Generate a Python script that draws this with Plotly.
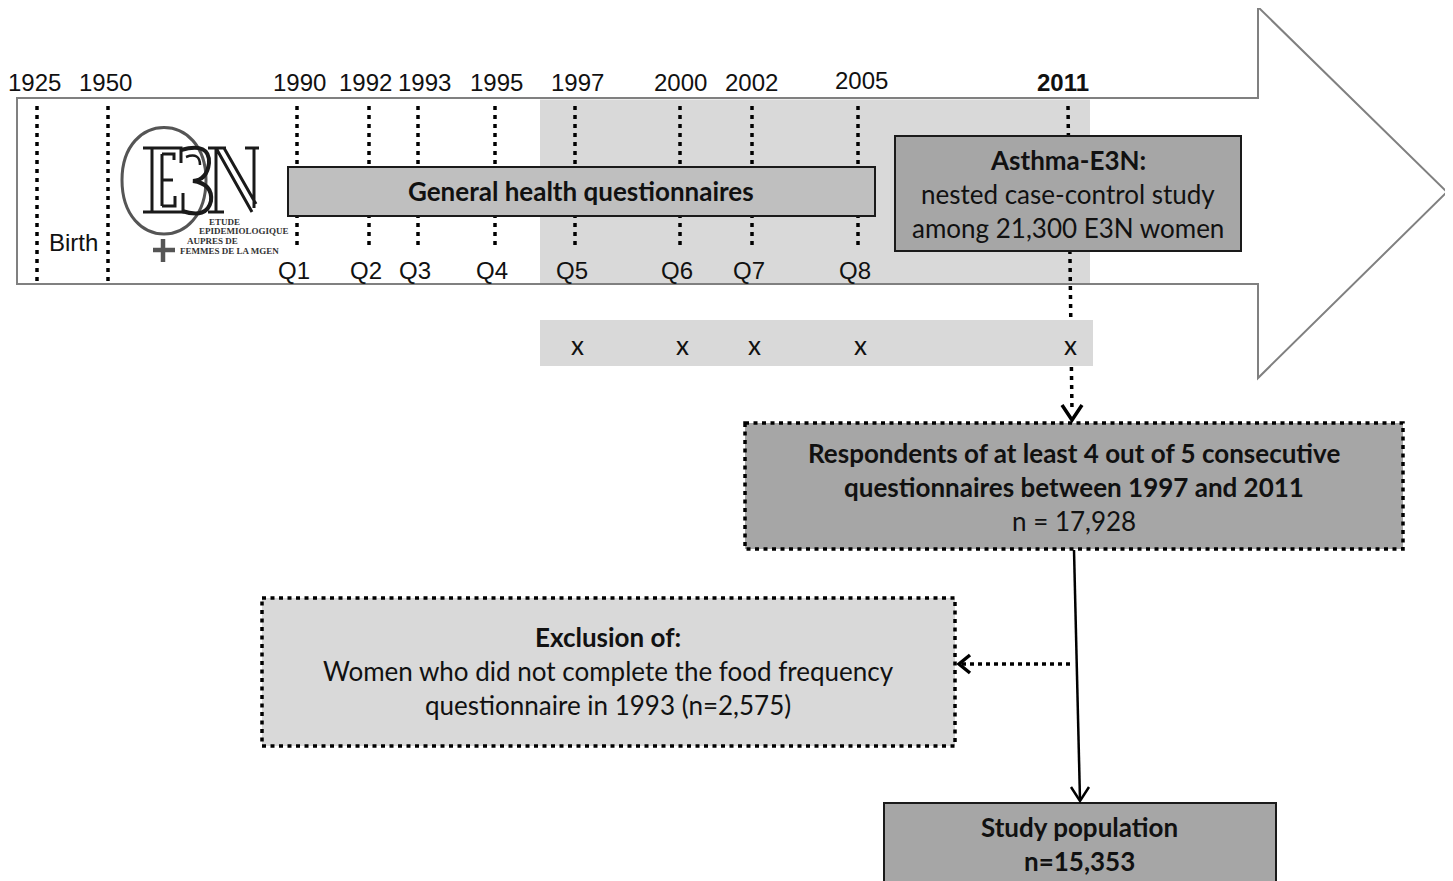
import plotly.graph_objects as go

W, H = 1453, 881
OFF = 8  # default page body margin; the figure is placed at (8, 8) in the window

# ---------------- data ----------------
years = ["1925", "1950", "1990", "1992", "1993", "1995", "1997", "2000", "2002", "2005", "2011"]
questionnaires = ["Q1", "Q2", "Q3", "Q4", "Q5", "Q6", "Q7", "Q8"]
questionnaire_years = ["1990", "1992", "1993", "1995", "1997", "2000", "2002", "2005"]
followup_years = ["1997", "2000", "2002", "2005", "2011"]
n_cohort = 21300
n_respondents = 17928
n_excluded = 2575
n_study = 15353
min_answered, window = 4, 5
ffq_year = "1993"
logo_lines = ["ETUDE", "EPIDEMIOLOGIQUE", "AUPRES DE", "FEMMES DE LA MGEN"]

# ---------------- layout (pixel positions in the window) ----------------
year_x = {"1925": 37, "1950": 108, "1990": 297, "1992": 369, "1993": 418, "1995": 495,
          "1997": 575, "2000": 680, "2002": 752, "2005": 858, "2011": 1068}
year_label_dx = {"1925": -3, "1950": -3, "1990": 2, "1992": -4, "1993": 6, "1995": 1,
                 "1997": 2, "2000": 0, "2002": -1, "2005": 3, "2011": -5}
long_lines = {"1925", "1950"}

BOX_FONT = "Lato, 'Open Sans', sans-serif"
ARIAL = "'Liberation Sans', Arial, sans-serif"
SERIF = "'Liberation Serif', 'DejaVu Serif', serif"
BOX_SIZE = 26
ARIAL_SIZE = 24

shapes = []
annotations = []


def rect(x0, y0, x1, y1, fill, lc="#1a1a1a", lw=2, dash="solid"):
    shapes.append(dict(type="rect", x0=x0, y0=y0, x1=x1, y1=y1, xref="x", yref="y",
                       fillcolor=fill, line=dict(color=lc, width=lw, dash=dash)))


def path(d, lc="#000", lw=3, dash="solid", fill=None):
    s = dict(type="path", path=d, xref="x", yref="y", line=dict(color=lc, width=lw, dash=dash))
    if fill:
        s["fillcolor"] = fill
    shapes.append(s)


def seg(x0, y0, x1, y1, lw=3.5, dash="4px,5px", lc="#000"):
    shapes.append(dict(type="line", x0=x0, x1=x1, y0=y0, y1=y1,
                       xref="x", yref="y", line=dict(color=lc, width=lw, dash=dash)))


def text(x, y, t, size=BOX_SIZE, family=BOX_FONT, color="#111", xanchor="center"):
    annotations.append(dict(x=x, y=y, xref="x", yref="y", text=t, showarrow=False,
                            xanchor=xanchor, yanchor="middle",
                            font=dict(size=size, family=family, color=color)))


# big timeline arrow
path("M17,98 H1258 V7 L1447,192 L1258,378 V284 H17 Z", lc="#808080", lw=2, fill="#ffffff")
# follow-up shaded region inside arrow
rect(540, 99.5, 1090, 283, "#d9d9d9", lw=0)

# dotted year lines
for y in years:
    x = year_x[y]
    if y == "2011":
        seg(x, 106, x + 4, 412)
    elif y in long_lines:
        seg(x, 106, x, 284)
    else:
        seg(x, 106, x, 248)

# band of x marks
rect(540, 320, 1093, 366, "#d9d9d9", lw=0)

# boxes
rect(288, 167, 875, 216, "#bfbfbf")
rect(895, 136, 1241, 251, "#a6a6a6")
rect(745, 423, 1403, 549, "#a6a6a6", lc="#000", lw=3.5, dash="4px,4.5px")
rect(262, 598, 955, 746, "#d9d9d9", lc="#000", lw=3.5, dash="4px,4.5px")
rect(884, 803, 1276, 895, "#a6a6a6")

# arrows
path("M1062,405 L1072,420 L1082,405", lw=3.5)
path("M1074,550 L1080,800", lw=2.5)
path("M1071,787 L1080,801 L1089,787", lw=2.5)
seg(1070, 664, 962, 664, dash="4px,4px")
path("M970,655 L959,664 L970,673", lw=3.5)

# E3N logo (drawn)
path("M122,180 C122,110 206,110 206,180 C206,252 122,252 122,180 Z", lc="#555", lw=3)
path("M163,239 V262", lc="#555", lw=4.5)
path("M153,250 H175", lc="#555", lw=4.5)
logo_c = "#1a1a1a"
# E
path("M143,148 H181 V163 M152,148 V212 M162,154 V206 M162,154 H174 V160 "
     "M162,180 H173 M162,206 H175 V196 M143,212 H183 V193", lc=logo_c, lw=3)
# 3
path("M181,150 Q210,142 209,163 Q207,180 193,181 Q213,184 211,201 Q207,219 182,211", lc=logo_c, lw=4)
path("M186,157 Q200,152 200,165", lc=logo_c, lw=2.5)
# N
path("M216,212 V148 M216,148 L252,212 M224,148 L256,204 M254,148 V208 "
     "M208,148 H226 M245,148 H259 M208,212 H224", lc=logo_c, lw=3)
logo_pos = [(207, 222), (197, 231), (185, 241), (178, 251)]
for t, (lx, ly) in zip(logo_lines, logo_pos):
    text(lx, ly, "<b>" + t + "</b>", size=9, family=SERIF, color="#333", xanchor="left")

# year labels
for y in years:
    lab = "<b>" + y + "</b>" if y == "2011" else y
    text(year_x[y] + year_label_dx[y], 82 if y != "2005" else 80, lab, size=ARIAL_SIZE, family=ARIAL)

# questionnaire labels
for q, y in zip(questionnaires, questionnaire_years):
    text(year_x[y] - 3, 270, q, size=ARIAL_SIZE, family=ARIAL)

text(73, 242, "Birth", size=ARIAL_SIZE, family=ARIAL)

# x marks
for y in followup_years:
    text(year_x[y] + 2, 345, "x")

# box texts
text(581, 191, "<b>General health questionnaires</b>")
text(1068, 160, "<b>Asthma-E3N:</b>")
text(1068, 194, "nested case-control study")
text(1068, 228, "among {:,} E3N women".format(n_cohort))

text(1074, 453, "<b>Respondents of at least {} out of {} consecutive</b>".format(min_answered, window))
text(1074, 487, "<b>questionnaires between {} and {}</b>".format(followup_years[0], followup_years[-1]))
text(1074, 521, "n = {:,}".format(n_respondents))

text(608, 637, "<b>Exclusion of:</b>")
text(608, 671, "Women who did not complete the food frequency")
text(608, 705, "questionnaire in {} (n={:,})".format(ffq_year, n_excluded))

text(1079, 827, "<b>Study population</b>")
text(1079, 861, "<b>n={:,}</b>".format(n_study))

fig = go.Figure()
fig.update_layout(
    width=W - OFF, height=H - OFF, margin=dict(l=0, r=0, t=0, b=0),
    paper_bgcolor="white", plot_bgcolor="white",
    xaxis=dict(range=[OFF, W], visible=False, fixedrange=True),
    yaxis=dict(range=[H, OFF], visible=False, fixedrange=True),
    shapes=shapes, annotations=annotations, showlegend=False,
)
fig.write_html("out.html")
